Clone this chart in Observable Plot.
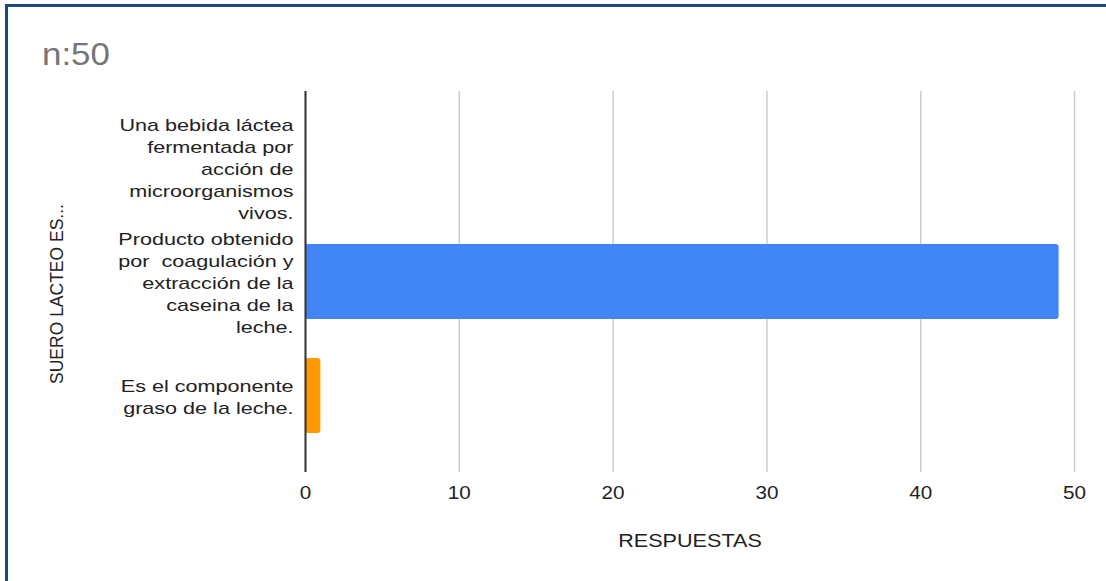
<!DOCTYPE html>
<html><head><meta charset="utf-8">
<script src="https://cdn.jsdelivr.net/npm/d3@7"></script>
<script src="https://cdn.jsdelivr.net/npm/@observablehq/plot@0.6"></script>
<style>
html,body{margin:0;padding:0;background:#fff;overflow:hidden;}
#wrap{position:relative;width:1106px;height:581px;font-family:"Liberation Sans",Arial,sans-serif;overflow:hidden;}
#frame{position:absolute;left:5px;top:4px;width:1110px;height:590px;border-top:3px solid #1b4a79;border-left:3px solid #1b4a79;pointer-events:none;}
#title{height:80px;position:relative;}
#title span{position:absolute;left:42px;top:38px;font-size:32px;line-height:32px;color:#757575;transform:scaleX(1.09);transform-origin:left center;}
</style></head>
<body><div id="wrap"><div id="title"><span>n:50</span></div><div id="chart"></div><div id="frame"></div></div>
<script>
const categories = [
  "Una bebida láctea\nfermentada por\nacción de\nmicroorganismos\nvivos.",
  "Producto obtenido\npor  coagulación y\nextracción de la\ncaseina de la\nleche.",
  "Es el componente\ngraso de la leche."
];
const values = [0, 49, 1];
const colors = ["#4285f4", "#4285f4", "#ff9900"];
const xTicks = [0, 10, 20, 30, 40, 50];
const xLabel = "RESPUESTAS";
const yLabel = "SUERO LACTEO ES...";

const data = categories.map((c, i) => ({category: c, value: values[i], color: colors[i]}));

const chart = Plot.plot({
  width: 1106, height: 501,
  marginLeft: 305, marginRight: 32, marginTop: 11, marginBottom: 109,
  style: {fontFamily: "'Liberation Sans', Arial, sans-serif", background: "transparent", color: "#222"},
  x: {domain: [0, 50]},
  y: {domain: categories, padding: 0.34},
  color: {type: "identity"},
  marks: [
    Plot.gridX(xTicks, {stroke: "#cccccc", strokeOpacity: 1, strokeWidth: 1.5}),
    Plot.barX(data, {x: "value", y: "category", fill: "color", rx: 3}),
    Plot.ruleX([0], {stroke: "#333", strokeWidth: 2}),
    Plot.axisX(xTicks, {tickSize: 0, tickPadding: 14, fontSize: 18, label: null, className: "xt"}),
    Plot.axisY({tickSize: 0, tickPadding: 12, fontSize: 17, lineHeight: 1.3, label: null, className: "yt"}),
    Plot.text([xLabel], {text: d => d, frameAnchor: "bottom", dy: 69, fontSize: 18, lineAnchor: "middle", className: "xl"}),
    Plot.text([yLabel], {text: d => d, frameAnchor: "left", dx: -248.5, dy: 12, rotate: -90, fontSize: 17.5, textAnchor: "middle", lineAnchor: "middle"})
  ]
});
document.getElementById("chart").appendChild(chart);

// widen glyphs horizontally, as in the reference rendering
function stretch(selector, s) {
  chart.querySelectorAll(selector).forEach(t => {
    const tr = t.getAttribute("transform");
    if (tr) {
      t.setAttribute("transform", tr + ` scale(${s},1)`);
    } else {
      const x = +t.getAttribute("x") || 0, y = +t.getAttribute("y") || 0;
      t.removeAttribute("x"); t.removeAttribute("y");
      t.setAttribute("transform", `translate(${x},${y}) scale(${s},1)`);
    }
  });
}
stretch(".yt text", 1.27);
stretch(".xt text", 1.15);
stretch(".xl text", 1.2);
</script>
</body></html>
